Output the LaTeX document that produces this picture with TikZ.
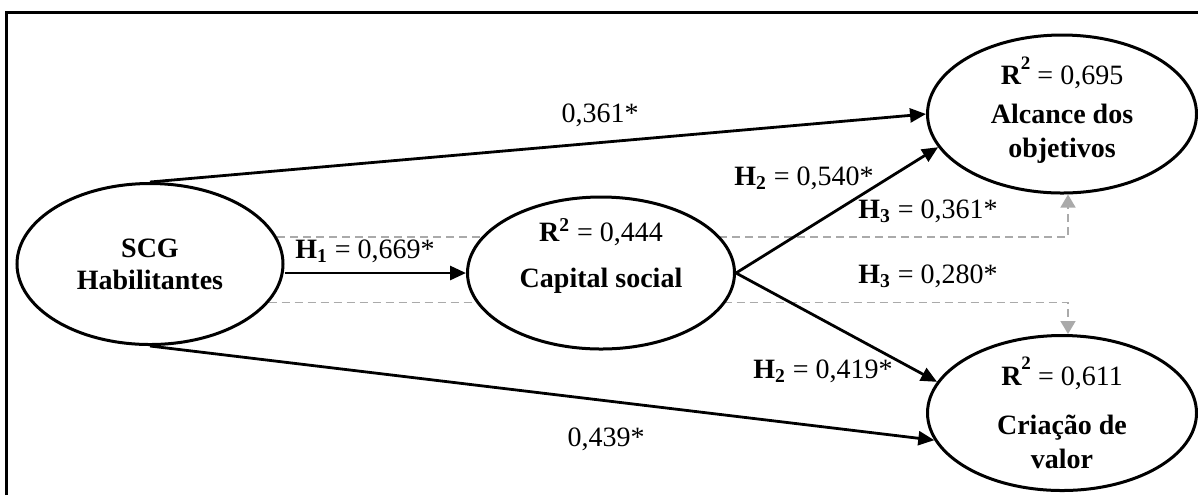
\documentclass[tikz,border=0pt]{standalone}
\usepackage{fontspec}
\setmainfont{Liberation Serif}
\usetikzlibrary{arrows.meta,backgrounds,shapes.geometric}

\definecolor{medgray}{RGB}{170,170,170}
\newcommand{\rsq}[1]{R\textsuperscript{2} {\mdseries= #1}}
\newcommand{\rsqhigh}[1]{R\raisebox{.55em}{\fontsize{9.5}{9.5}\selectfont 2} {\mdseries= #1}}

\begin{document}
\begin{tikzpicture}[
  x=0.5pt,y=-0.5pt,
  font=\fontsize{14}{16}\selectfont,
  construct/.style={draw,ellipse,line width=1.5pt,fill=white,inner sep=0pt},
  inside/.style={align=center,font=\fontsize{14}{17}\selectfont\bfseries},
  effect/.style={-{Triangle[length=8pt,width=7pt]},line width=1.4pt},
  mediation/.style={-{Triangle[length=6.5pt,width=7.5pt]},medgray,line width=0.8pt,dash pattern=on 4pt off 2.5pt},
  coef/.style={anchor=base}
]
  \useasboundingbox (0,0) rectangle (1198,495);
  \draw[line width=1.5pt] (6,495) -- (6,12) -- (1198,12);

  % constructs
  \node[construct,minimum width=133pt,minimum height=80.5pt,align=center,font=\fontsize{14}{16}\selectfont\bfseries] (scg) at (150,264) {SCG\\Habilitantes};
  \node[construct,minimum width=133.5pt,minimum height=76pt] (cap) at (601,273) {};
  \node[construct,minimum width=134.5pt,minimum height=79pt] (alc) at (1062,114) {};
  \node[construct,minimum width=134.5pt,minimum height=77.5pt] (cri) at (1062,413) {};
  \node[inside,yshift=8.5pt] (captxt) at (cap) {\rsq{0,444}\\[6pt]Capital social};
  \node[inside,yshift=2pt] (alctxt) at (alc) {\rsqhigh{0,695}\\[2.5pt]Alcance dos\\objetivos};
  \node[inside,yshift=0pt] (critxt) at (cri) {\rsqhigh{0,611}\\[7.5pt]Cria\c{c}\~ao de\\valor};

  % paths
  \draw[effect] (scg.north) -- (alc.west);
  \draw[effect] (scg.south) -- (cri.192);
  \draw[effect] (scg.east |- cap.west) -- (cap.west);
  \draw[effect] (cap.east) -- (alc.195);
  \draw[effect] (cap.east) -- (cri.166);
  \begin{scope}[on background layer]
    \draw[mediation] (scg.12) -| ([xshift=3pt]alc.south);
    \draw[mediation] (scg.-18) -| ([xshift=3pt]cri.north);
  \end{scope}

  % coefficients
  \node[coef] (b1) at (600,122) {0,361*};
  \node[coef] (b2) at (606,446) {0,439*};
  \node[coef] (h1) at (365,258) {\textbf{H\textsubscript{1}} = 0,669*};
  \node[coef] (h2a) at (804,185) {\textbf{H\textsubscript{2}} = 0,540*};
  \node[coef] (h2b) at (823,378) {\textbf{H\textsubscript{2}} = 0,419*};
  \node[coef] (h3a) at (928,218) {\textbf{H\textsubscript{3}} = 0,361*};
  \node[coef] (h3b) at (928,283) {\textbf{H\textsubscript{3}} = 0,280*};
\end{tikzpicture}
\end{document}
